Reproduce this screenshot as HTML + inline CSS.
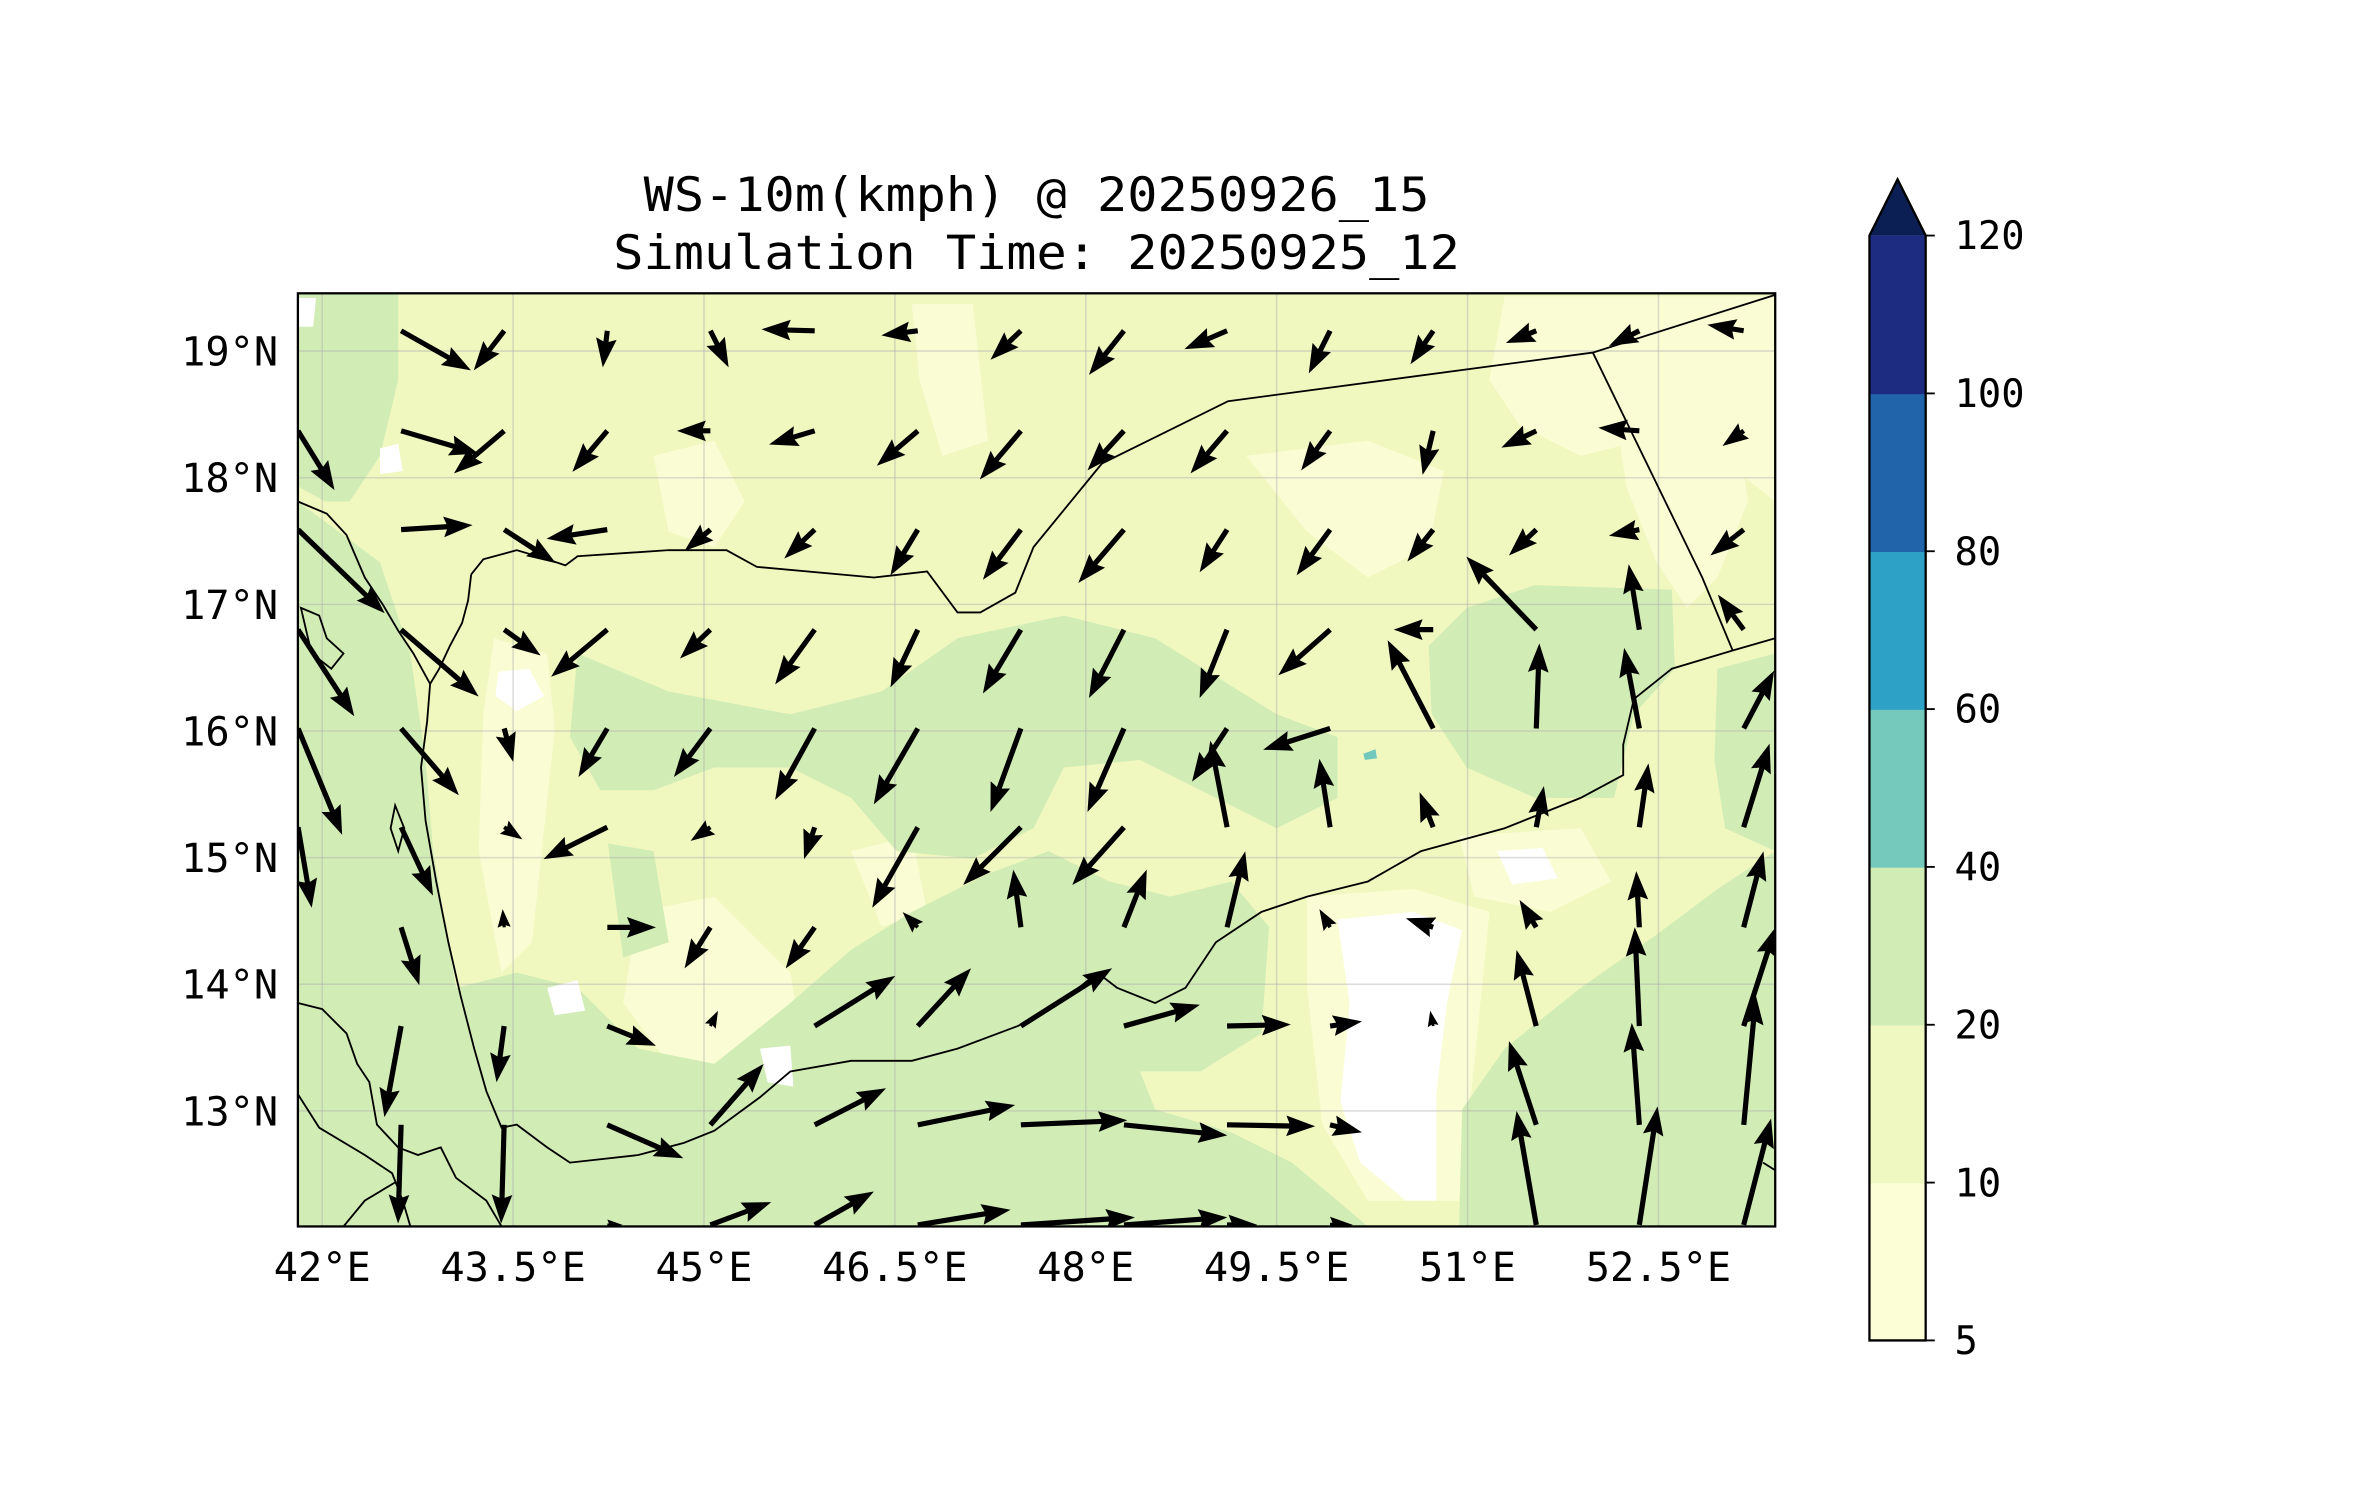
<!DOCTYPE html>
<html><head><meta charset="utf-8"><style>
html,body{margin:0;padding:0;background:#fff;}
svg{display:block;}
text{font-family:"DejaVu Sans Mono","Liberation Mono",monospace;fill:#000;}
</style></head><body>
<svg id="fig" width="2371" height="1500" viewBox="0 0 1560 987" preserveAspectRatio="none" xmlns="http://www.w3.org/2000/svg">
<defs><clipPath id="mapclip"><rect x="196" y="193" width="972" height="614"/></clipPath></defs>
<rect x="0" y="0" width="1560" height="987" fill="#ffffff"/>
<text x="682" y="139" font-size="31" text-anchor="middle" textLength="517" lengthAdjust="spacingAndGlyphs">WS-10m(kmph) @ 20250926_15</text>
<text x="682" y="177" font-size="31" text-anchor="middle" textLength="557" lengthAdjust="spacingAndGlyphs">Simulation Time: 20250925_12</text>

<g clip-path="url(#mapclip)">
 <rect x="196" y="193" width="972" height="614" fill="#f0f8c0"/>
 <g fill="#fafdd4">
  <path d="M990,195 L1168,195 L1168,330 L1130,300 L1080,290 L1040,300 L1000,280 L980,250 Z"/>
  <path d="M1060,250 L1140,260 L1150,330 L1130,380 L1110,400 L1090,370 L1070,320 Z"/>
  <path d="M820,300 L900,290 L950,310 L940,360 L900,380 L860,350 Z"/>
  <path d="M600,200 L640,200 L650,290 L620,300 L605,250 Z"/>
  <path d="M430,300 L470,290 L490,330 L470,360 L440,350 Z"/>
  <path d="M325,420 L360,430 L365,480 L350,620 L330,640 L315,560 L318,470 Z"/>
  <path d="M420,600 L470,590 L520,640 L530,700 L490,720 L440,700 L410,660 Z"/>
  <path d="M860,590 L930,585 L980,600 L970,700 L960,790 L900,790 L870,740 L860,650 Z"/>
  <path d="M960,550 L1040,545 L1060,580 L1020,600 L970,590 Z"/>
  <path d="M560,560 L600,550 L610,600 L580,610 Z"/>
 </g>
 <g fill="#d1ecb4">
  <path d="M196,193 L262,193 L262,250 L250,300 L230,330 L214,330 L196,320 Z"/>
  <path d="M196,330 L250,370 L270,430 L280,500 L285,560 L300,650 L320,720 L300,807 L196,807 Z"/>
  <path d="M380,430 L440,455 L520,470 L580,455 L630,420 L700,405 L760,420 L800,445 L840,470 L880,485 L880,525 L840,545 L790,520 L750,500 L700,505 L680,545 L640,565 L590,560 L560,525 L520,505 L470,505 L430,520 L395,520 L375,485 Z"/>
  <path d="M300,650 L340,640 L380,650 L420,690 L470,700 L520,660 L560,625 L600,600 L650,575 L690,560 L730,580 L770,590 L810,580 L835,610 L830,680 L790,705 L750,705 L760,730 L810,745 L850,765 L880,790 L900,807 L300,807 Z"/>
  <path d="M940,425 L965,400 L1010,385 L1100,388 L1102,440 L1075,470 L1062,525 L1010,525 L965,505 L942,470 Z"/>
  <path d="M960,807 L962,730 L990,690 L1040,650 L1090,615 L1130,585 L1168,560 L1168,807 Z"/>
  <path d="M1130,440 L1168,430 L1168,560 L1135,545 L1128,500 Z"/>
  <path d="M400,555 L430,560 L440,620 L410,630 Z"/>
 </g>
 <g fill="#ffffff">
  <path d="M880,605 L930,600 L962,612 L952,660 L945,720 L945,790 L925,790 L895,765 L882,725 L888,660 Z"/>
  <path d="M328,442 L348,440 L358,458 L340,468 L326,458 Z"/>
  <path d="M985,560 L1015,558 L1025,578 L995,582 Z"/>
  <path d="M360,650 L380,645 L385,665 L365,668 Z"/>
  <path d="M196,196 L208,196 L206,215 L196,215 Z"/>
  <path d="M250,295 L262,292 L265,310 L250,312 Z"/>
  <path d="M500,690 L520,688 L522,715 L505,712 Z"/>
 </g>
 <path d="M897,496 L905,493 L906,499 L898,500 Z" fill="#73c8bd"/>
 <g id="grid" stroke="#b0b0b0" stroke-opacity="0.45" stroke-width="1"></g>
 <g fill="none" stroke="#000" stroke-width="1.2">
  <path d="M310,378 L318,368 L340,362 L360,368 L372,372 L380,366 L440,362 L478,362 L498,373 L575,380 L610,376 L630,403 L645,403 L668,390 L680,360 L725,305 L808,264 L1048,232 L1168,194"/>
  <path d="M1048,232 L1120,380 L1140,428"/>
  <path d="M196,330 L215,338 L228,352 L240,380 L252,398 L262,415 L272,430 L283,450 L281,475 L277,505 L280,540 L287,580 L295,620 L303,655 L312,690 L320,718 L330,742 L340,740 L360,755 L375,765 L420,760 L450,752 L470,744 L500,722 L520,705 L560,698 L600,698 L630,690 L670,675 L700,658 L722,640 L735,650 L760,660 L780,650 L800,620 L830,600 L860,590 L900,580 L935,560 L990,545 L1040,525 L1068,510 L1068,490 L1075,460 L1100,440 L1140,428 L1168,420"/>
  <path d="M310,378 L308,395 L304,410 L296,425 L289,440 L283,450"/>
  <path d="M196,660 L212,664 L228,680 L235,700 L243,712 L248,740 L262,755 L275,760 L290,755 L300,775 L320,790 L330,807"/>
  <path d="M196,720 L210,742 L240,760 L258,772 L265,790 L270,807"/>
  <path d="M226,807 L240,790 L260,778"/>
  <path d="M198,400 L210,405 L215,420 L226,430 L218,440 L205,430 Z"/>
  <path d="M260,530 L266,545 L262,560 L257,545 Z"/>
  <path d="M1160,765 L1168,770"/>
 </g>
 <g id="arrows" fill="#000"></g>
</g>
<rect x="196" y="193" width="972" height="614" fill="none" stroke="#000" stroke-width="1.5"/>
<g id="xticks"></g>
<g id="yticks"></g>
<g id="cbar"></g>
</svg>
<script>
// ---- data ----
const lonTicks = [42, 43.5, 45, 46.5, 48, 49.5, 51, 52.5];
const lonTickLabels = ["42°E", "43.5°E", "45°E", "46.5°E", "48°E", "49.5°E", "51°E", "52.5°E"];
const latTicks = [13, 14, 15, 16, 17, 18, 19];
const latTickLabels = ["13°N", "14°N", "15°N", "16°N", "17°N", "18°N", "19°N"];
const gridLons = [41.81, 42.62, 43.43, 44.24, 45.05, 45.87, 46.68, 47.49, 48.30, 49.11, 49.92, 50.73, 51.54, 52.35, 53.17];
const gridLats = [19.16, 18.37, 17.59, 16.80, 16.02, 15.24, 14.45, 13.67, 12.89, 12.10];
const windU = [
 [0, 46, -20, -3, 12, -35, -24, -20, -23, -28, -14, -15, -20, -20, -24],
 [24, 51, -33, -23, -22, -30, -27, -27, -24, -24, -19, -7, -23, -27, -14],
 [57, 47, 34, -40, -17, -20, -18, -25, -30, -18, -22, -17, -18, -20, -22],
 [37, 51, 24, -37, -20, -26, -18, -25, -23, -18, -34, -26, -46, -7, -17],
 [29, 38, 6, -19, -24, -26, -29, -20, -24, -23, -44, -30, 2, -10, 20],
 [9, 21, 12, -42, -13, -7, -30, -38, -34, -11, -7, -9, 5, 6, 17],
 [0, 12, -1, 32, -17, -19, -10, -5, 15, 12, -7, -18, -11, -2, 13],
 [0, -11, -5, 32, 5, 53, 35, 60, 50, 42, 21, -2, -13, -3, 21],
 [0, -2, -2, 50, 35, 47, 64, 70, 68, 58, 21, 1, -18, -5, 8],
 [0, 0, 0, 10, 40, 39, 61, 75, 68, 20, 15, 0, -13, 12, 18]
];
const windV = [
 [0, -26, -26, -24, -24, 1, -3, -19, -29, -12, -28, -22, -8, -10, 4],
 [-39, -15, -28, -27, 0, -9, -23, -32, -26, -28, -26, -29, -11, 2, -10],
 [-55, 3, -22, -6, -14, -19, -30, -33, -35, -28, -30, -21, -17, -4, -17],
 [-57, -44, -17, -31, -19, -36, -38, -42, -45, -45, -30, 0, 48, 43, 23],
 [-70, -44, -22, -32, -32, -47, -50, -55, -55, -35, -14, 58, 56, 53, 38],
 [-53, -45, -8, -21, -9, -21, -53, -38, -38, 57, 45, 23, 27, 42, 55],
 [0, -38, 12, 0, -27, -27, 10, 38, 38, 50, 12, 6, 18, 37, 50],
 [0, -60, -37, -13, 10, 33, 38, 38, 14, 1, 3, 10, 50, 65, 65],
 [0, -65, -65, -22, 40, 24, 13, 3, -7, -1, -5, 0, 55, 67, 85],
 [0, 0, 0, 0, 15, 22, 10, 5, 5, 0, 0, 0, 75, 78, 70]
];
const cbarLevels = [5, 10, 20, 40, 60, 80, 100, 120];
const cbarLabels = ["5", "10", "20", "40", "60", "80", "100", "120"];
const cbarColors = ["#fcfed6", "#eff8c0", "#d1ecb4", "#75c8bc", "#2ea2c6", "#2264a9", "#1d2b80"];

// ---- axes ----
const NS = "http://www.w3.org/2000/svg";
function xOf(lon) { return 212 + 83.73 * (lon - 42); }
function yOf(lat) { return 231 + 83.33 * (19 - lat); }
function mk(tag, attrs, parent) {
  const e = document.createElementNS(NS, tag);
  for (const k in attrs) e.setAttribute(k, attrs[k]);
  parent.appendChild(e);
  return e;
}
const grid = document.getElementById('grid');
lonTicks.forEach((lon) => {
  const l = mk('line', {x1: xOf(lon), x2: xOf(lon), y1: 193, y2: 807}, grid);
  
  
});
latTicks.forEach((lat) => {
  const l = mk('line', {x1: 196, x2: 1168, y1: yOf(lat), y2: yOf(lat)}, grid);
  
  
});
const xt = document.getElementById('xticks');
lonTicks.forEach((lon, i) => {
  const t = mk('text', {x: xOf(lon), y: 843, 'font-size': 26.5, 'text-anchor': 'middle'}, xt);
  
  
  t.textContent = lonTickLabels[i];
});
const yt = document.getElementById('yticks');
latTicks.forEach((lat, i) => {
  const t = mk('text', {x: 183, y: yOf(lat) + 9.5, 'font-size': 26.5, 'text-anchor': 'end'}, yt);
  
  
  t.textContent = latTickLabels[i];
});

// ---- wind arrows (quiver, pivot tail) ----
const arrowsG = document.getElementById('arrows');
const W = 3.4, HL = 5.6 * W, HAL = 5 * W, HW = 2.0 * W;
gridLats.forEach((lat, j) => {
  gridLons.forEach((lon, k) => {
    const u = windU[j][k], v = windV[j][k];
    const L = Math.hypot(u, v);
    if (L < 2) return;
    const x0 = xOf(lon), y0 = yOf(lat);
    const dx = u / L, dy = -v / L, nx = -dy, ny = dx;
    let s = 1;
    if (L < HL) s = L / HL;
    const w = W * s / 2, hl = HL * s, hal = HAL * s, hw = HW * s;
    const pts = [
      [0, w], [L - hal, w], [L - hl, hw], [L, 0], [L - hl, -hw], [L - hal, -w], [0, -w]
    ].map(p => (x0 + dx * p[0] + nx * p[1]).toFixed(1) + ',' + (y0 + dy * p[0] + ny * p[1]).toFixed(1)).join(' ');
    const a = mk('polygon', {points: pts}, arrowsG);
    
    
  });
});

// ---- colorbar ----
const cb = document.getElementById('cbar');
const cbX = 1230, cbW = 37, cbTop = 155, cbBot = 882;
const segH = (cbBot - cbTop) / (cbarLevels.length - 1);
function cbY(i) { return cbBot - i * segH; }
cbarColors.forEach((c, i) => {
  const r = mk('rect', {x: cbX, y: cbY(i + 1), width: cbW, height: segH + 0.5, fill: c}, cb);
  
  
});
const tri = mk('polygon', {points: `${cbX},${cbTop} ${cbX + cbW / 2},118 ${cbX + cbW},${cbTop}`, fill: '#0b1f55'}, cb);


const outline = mk('path', {d: `M${cbX},${cbBot} L${cbX},${cbTop} L${cbX + cbW / 2},118 L${cbX + cbW},${cbTop} L${cbX + cbW},${cbBot} Z`, fill: 'none', stroke: '#000', 'stroke-width': 1.5}, cb);


cbarLevels.forEach((lv, i) => {
  const y = cbY(i);
  const tk = mk('line', {x1: cbX + cbW, x2: cbX + cbW + 6, y1: y, y2: y, stroke: '#000', 'stroke-width': 1.2}, cb);
  
  
  const t = mk('text', {x: 1286, y: y + 9, 'font-size': 25.5}, cb);
  
  
  t.textContent = cbarLabels[i];
});
</script>
</body></html>
